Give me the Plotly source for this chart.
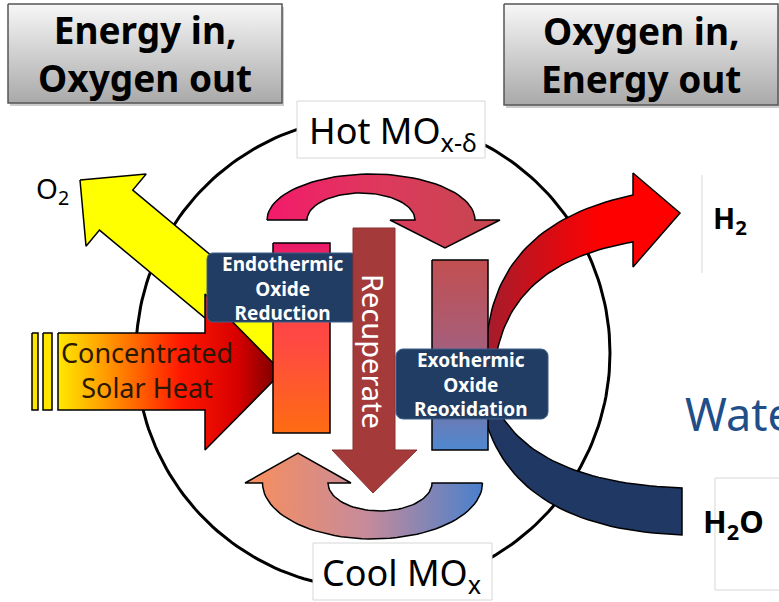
import numpy as np
import plotly.graph_objects as go

# ---- text of the diagram ----
header_labels = ["<b>Energy in,<br>Oxygen out</b>", "<b>Oxygen in,<br>Energy out</b>"]
state_labels = ["Hot MO<sub>x-δ</sub>", "Cool MO<sub>x</sub>"]
process_labels = ["<b>Endothermic<br>Oxide<br>Reduction</b>",
                  "<b>Exothermic<br>Oxide<br>Reoxidation</b>"]
heat_label = "Concentrated<br>Solar Heat"
recup_label = "Recuperate"
species_labels = ["O<sub>2</sub>", "<b>H<sub>2</sub></b>", "<b>H<sub>2</sub>O</b>"]
side_label = "Water"

FONT = "Noto Sans"
W, H = 779, 602

fig = go.Figure()


def poly(pts, fill="white", line="black", width=1.5, grad=None):
    xs = [p[0] for p in pts] + [pts[0][0]]
    ys = [p[1] for p in pts] + [pts[0][1]]
    tr = go.Scatter(x=xs, y=ys, mode="lines", fill="toself", fillcolor=fill,
                    line=dict(color=line, width=width), hoverinfo="skip")
    if grad is not None:
        tr.fillgradient = grad
    fig.add_trace(tr)


def rect(x0, y0, x1, y1):
    return [(x0, y0), (x1, y0), (x1, y1), (x0, y1)]


def rrect(x0, y0, x1, y1, r):
    pts = []
    for cx, cy, a0 in [(x1 - r, y0 + r, -90), (x1 - r, y1 - r, 0),
                       (x0 + r, y1 - r, 90), (x0 + r, y0 + r, 180)]:
        for a in np.linspace(a0, a0 + 90, 8):
            t = np.radians(a)
            pts.append((cx + r * np.cos(t), cy + r * np.sin(t)))
    return pts


def bez(p0, c, p1, n=40):
    t = np.linspace(0, 1, n)
    x = (1 - t) ** 2 * p0[0] + 2 * t * (1 - t) * c[0] + t ** 2 * p1[0]
    y = (1 - t) ** 2 * p0[1] + 2 * t * (1 - t) * c[1] + t ** 2 * p1[1]
    return list(zip(x, y))


def ell(cx, cy, a, b, t0, t1, n=50):
    t = np.radians(np.linspace(t0, t1, n))
    return list(zip(cx + a * np.cos(t), cy - b * np.sin(t)))


def hgrad(stops, x0, x1):
    return dict(type="horizontal", colorscale=stops, start=x0, stop=x1)


def vgrad(stops, y0, y1):
    return dict(type="vertical", colorscale=stops, start=y0, stop=y1)


# ---- big cycle circle ----
t = np.linspace(0, 2 * np.pi, 240)
fig.add_trace(go.Scatter(x=373 + 237 * np.cos(t), y=353 + 236 * np.sin(t),
                         mode="lines", line=dict(color="black", width=3),
                         hoverinfo="skip"))

# ---- header boxes ----
for (x0, y0, x1, y1) in [(8, 4, 282, 103), (504, 4, 778, 105)]:
    poly(rect(x0 + 2, y0 + 3, x1 + 2, y1 + 3), fill="rgba(0,0,0,0.2)", width=0)
    poly(rect(x0, y0, x1, y1), line="#555555", width=1.5,
         grad=vgrad([[0, "#f7f7f7"], [1, "#a9a9a9"]], y0, y1))

# ---- O2 yellow arrow ----
tip = np.array([80, 180])
u = np.array([0.768, 0.640])
p = np.array([0.640, -0.768])
base = tip + 47 * u
end = base + 240 * u
o2 = [tip, base + 47 * p, base + 26 * p, end + 26 * p, end - 26 * p,
      base - 26 * p, base - 47 * p]
poly([tuple(q) for q in o2], fill="#ffff00")

# ---- concentrated solar heat arrow ----
poly(rect(32, 333, 38, 410), fill="#ffe600")
poly(rect(43, 333, 52, 410), fill="#ffe600")
poly([(58, 333), (205, 333), (205, 294), (282, 372), (205, 450), (205, 410), (58, 410)],
     grad=hgrad([[0, "#ffe800"], [0.2, "#ffa000"], [0.55, "#ff1800"],
                 [0.8, "#d80000"], [1, "#700000"]], 58, 282))

# ---- H2 red arrow ----
up = bez((486, 352), (490, 225), (633, 195))
lo = bez((497, 352), (515, 262), (633, 242))[::-1]
poly(up + [(633, 173), (680, 213), (633, 267)] + lo,
     grad=hgrad([[0, "#a51c2c"], [1, "#ff0000"]], 488, 600))

# ---- H2O navy band ----
up = bez((488, 385), (515, 482), (682, 488))
lo = bez((478, 380), (490, 528), (682, 535))[::-1]
poly(up + lo, grad=vgrad([[0, "#4a2a50"], [0.5, "#243763"], [1, "#1f3864"]], 380, 460))

# ---- top (hot) curved arrow ----
outer = ell(371, 220, 104, 46, 180, 0)
inner = ell(361, 220, 54, 27, 0, 180)
mid = (475 + 415) / 2
poly(outer + [(mid + 55, 220), (mid, 248), (mid - 55, 220)] + inner,
     grad=hgrad([[0, "#f31a6b"], [0.5, "#dd3a5c"], [1, "#c4474f"]], 267, 500))

# ---- bottom (cool) curved arrow ----
outer = ell(372.5, 483, 110, 56, 0, -180)
inner = ell(380, 483, 52, 28, -180, 0)
poly(outer + [(245, 483), (298, 453), (351, 483)] + inner,
     grad=hgrad([[0, "#f88e5d"], [0.5, "#c78b9a"], [1, "#4a80cc"]], 248, 482))

# ---- oxide bars ----
poly(rect(273, 243, 330, 433),
     grad=vgrad([[0, "#e8176b"], [0.18, "#ff3b4e"], [0.55, "#ff4b40"], [1, "#ff6c12"]], 243, 433))
poly(rect(432, 260, 488, 450),
     grad=vgrad([[0, "#c24f50"], [0.45, "#a65e7a"], [1, "#4f88d0"]], 260, 450))

# ---- process boxes ----
poly(rrect(207, 253, 357, 322, 6), fill="#213d63", line="#3d5f8a", width=1)
poly(rrect(396, 349, 548, 419, 7), fill="#213d63", line="#3d5f8a", width=1)

# ---- recuperate arrow ----
poly([(353, 228), (395, 228), (395, 450), (417, 450), (373, 493), (332, 450), (353, 450)],
     fill="#a53a3b", line="#8a3030", width=1)

# ---- state label boxes ----
poly(rect(297, 101, 485, 158), line="#d6d6d6", width=1)
poly(rect(313, 543, 492, 600), line="#d6d6d6", width=1)
fig.add_trace(go.Scatter(x=[702, 702], y=[175, 273], mode="lines",
                         line=dict(color="#d6d6d6", width=1), hoverinfo="skip"))
poly(rect(715, 478, 790, 590), line="#d6d6d6", width=1)

# ---- text ----
ann = []


def txt(x, y, s, size, color="black", xa="center", angle=0):
    ann.append(dict(x=x, y=y, text=s, xref="x", yref="y", showarrow=False,
                    xanchor=xa, yanchor="middle", textangle=angle,
                    font=dict(family=FONT, size=size, color=color)))


txt(145, 53, header_labels[0], 37)
txt(641, 54, header_labels[1], 37)
txt(307, 132, state_labels[0], 36, xa="left")
txt(320, 574, state_labels[1], 36, xa="left")
txt(283, 288, process_labels[0], 19, color="white")
txt(471, 384, process_labels[1], 19, color="white")
txt(147, 370, heat_label, 27, color="#2a1805")
txt(374, 351, recup_label, 29, color="white", angle=90)
txt(34, 190, species_labels[0], 28, xa="left")
txt(711, 219, species_labels[1], 29, xa="left")
txt(701, 523, species_labels[2], 31, xa="left")
txt(683, 413, side_label, 45, color="#1f4e89", xa="left")

fig.update_layout(
    width=W, height=H, margin=dict(l=0, r=0, t=0, b=0),
    paper_bgcolor="white", plot_bgcolor="white", showlegend=False,
    xaxis=dict(range=[0, W], visible=False, fixedrange=True),
    yaxis=dict(range=[H, 0], visible=False, fixedrange=True),
    annotations=ann,
)

fig.write_html("out.html", config={"displayModeBar": False},
               post_script="document.body.style.margin='0';")
